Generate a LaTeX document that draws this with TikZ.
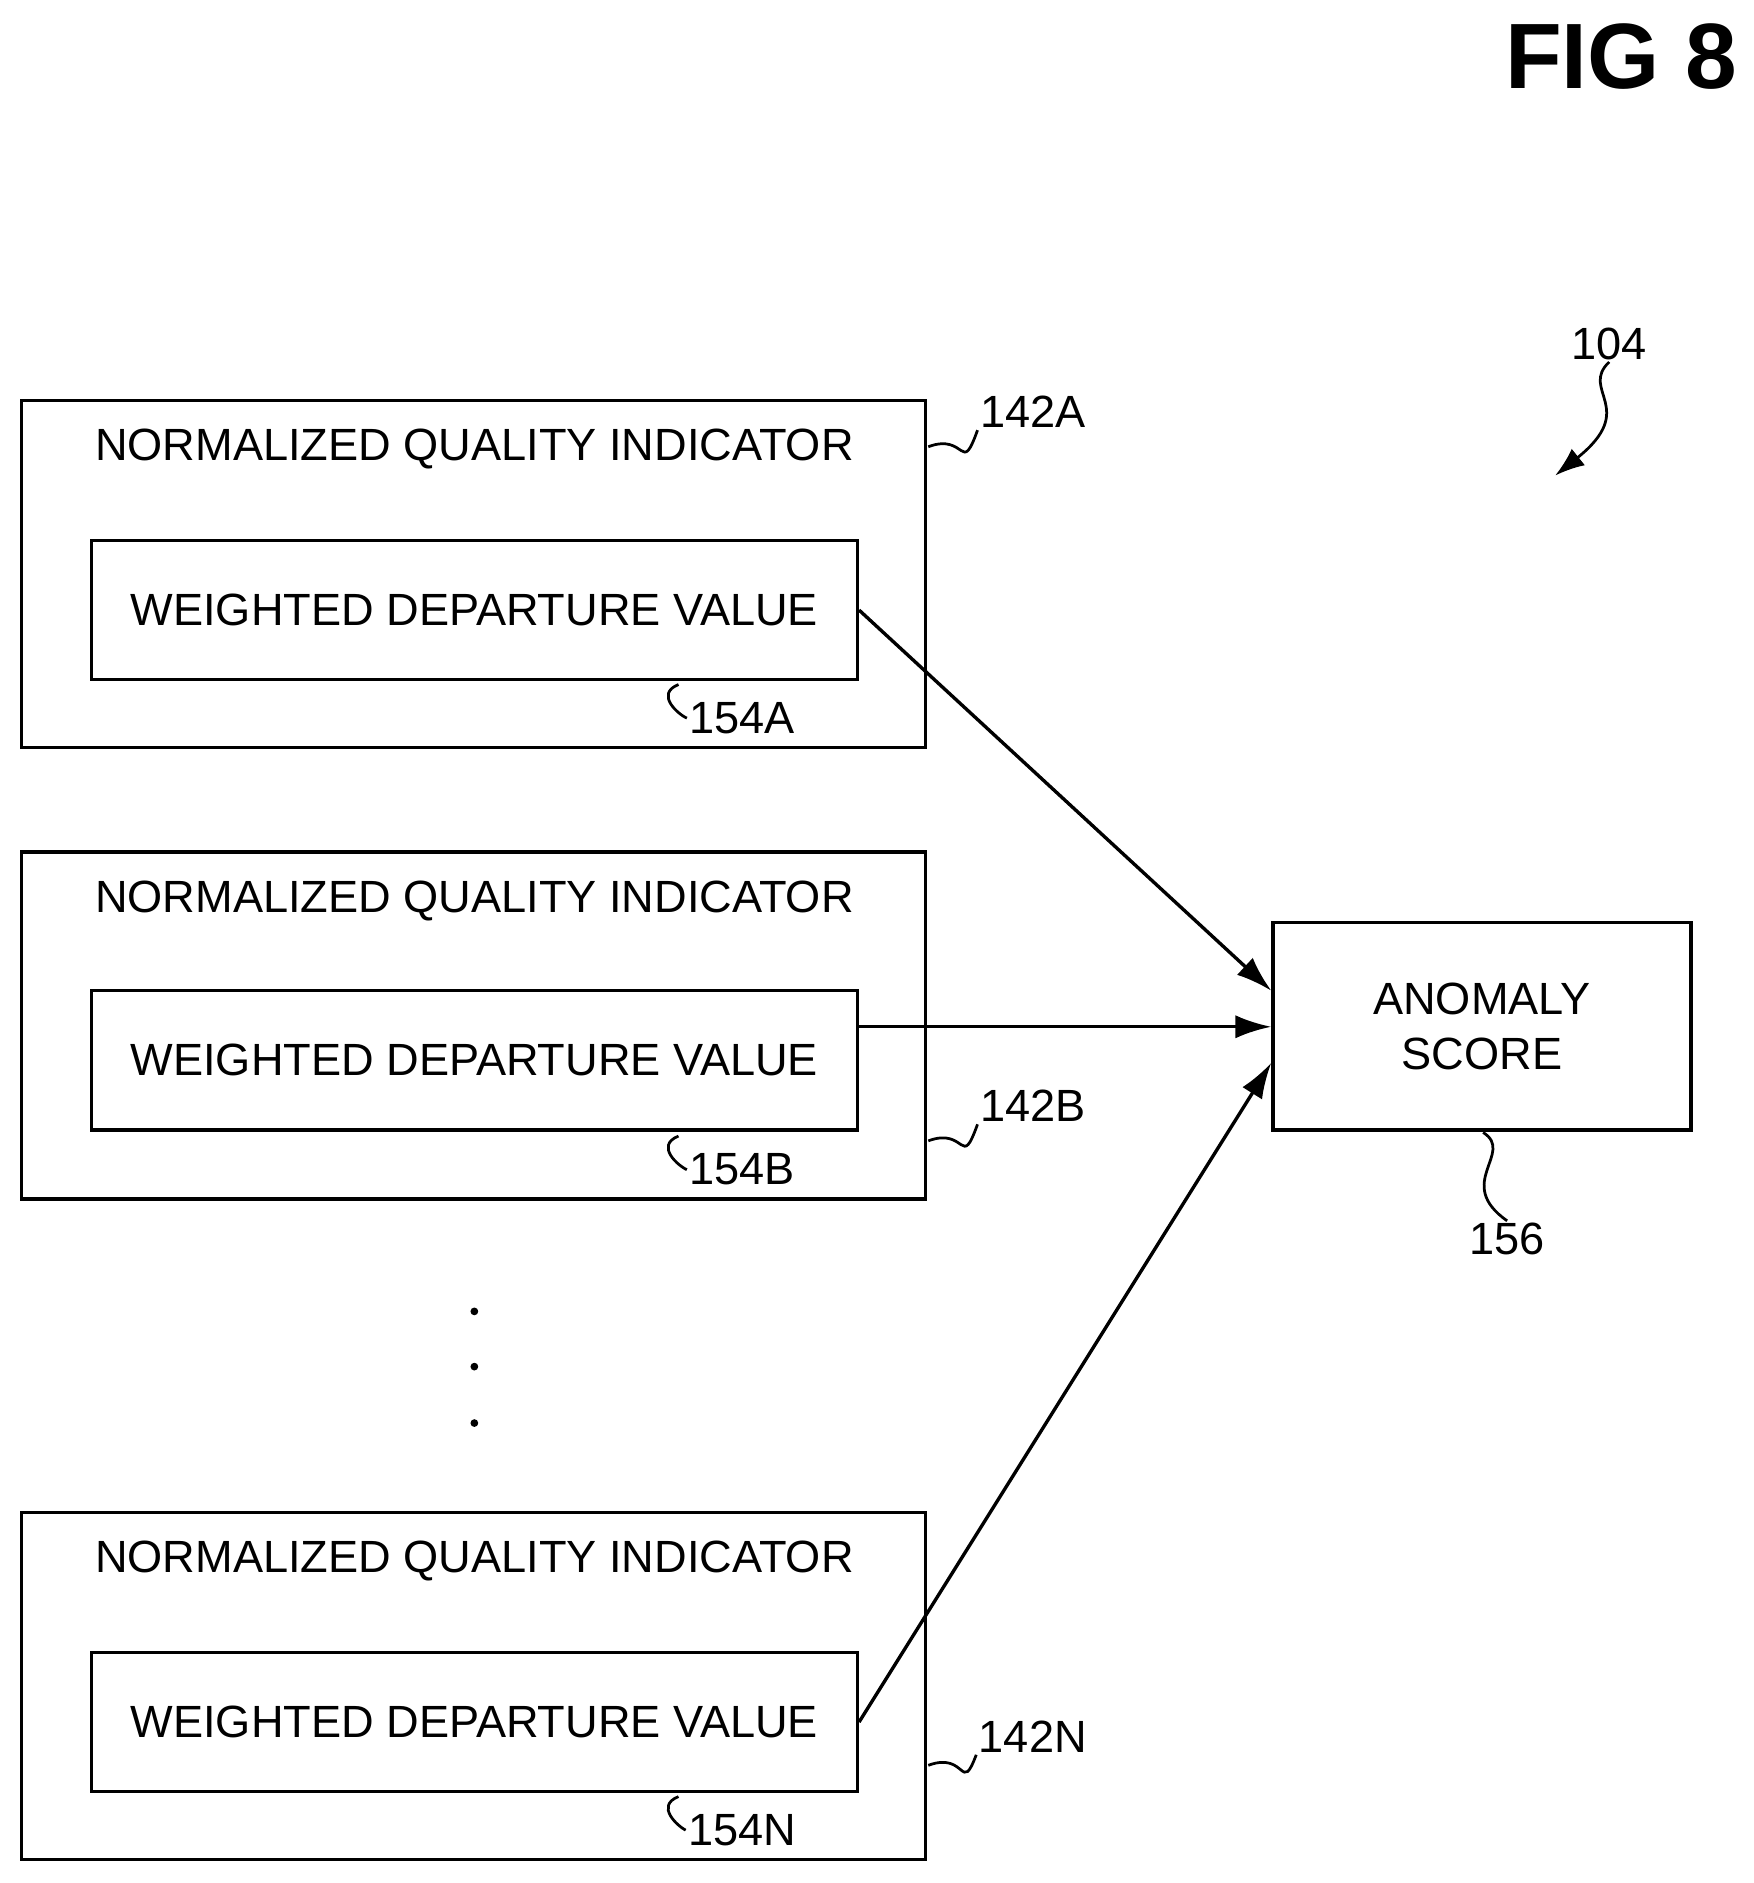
\documentclass[tikz,border=0pt]{standalone}
\usepackage{fontspec}
\setmainfont{Liberation Sans}
\usetikzlibrary{positioning}
\tikzset{
  outerbox/.style={draw,line width=1.6pt,minimum width=15.06cm,minimum height=5.78cm,inner sep=0pt},
  innerbox/.style={draw,line width=1.6pt,minimum width=12.76cm,minimum height=2.32cm,inner sep=0pt},
  boxtext/.style={font=\fontsize{21.4}{26}\selectfont},
  reflabel/.style={font=\fontsize{21.4}{26}\selectfont,inner sep=1pt},
  squiggle/.style={line width=1.3pt},
  link/.style={line width=1.6pt,-{Latex[length=17pt,width=11pt]}}
}
\usetikzlibrary{arrows.meta}
\begin{document}
\begin{tikzpicture}[x=0.02cm,y=-0.02cm]
  \useasboundingbox (0,0) rectangle (1460,1568);
  \node[font=\fontsize{44}{50}\selectfont\bfseries] (fig) at (1350,47) {FIG 8};
  % quality indicators
  \foreach \n/\y/\yi in {A/478/508, B/854/883, N/1404/1434}
  {
    \node[outerbox] (qi\n) at (394.5,\y) {};
    \node[boxtext] (qititle\n) at (395,\y-104) {NORMALIZED QUALITY INDICATOR};
    \node[innerbox] (wd\n) at (395,\yi) {};
    \node[boxtext] at (wd\n) {WEIGHTED DEPARTURE VALUE};
  }
  \node[draw,line width=1.6pt,minimum width=6.96cm,minimum height=3.46cm,boxtext,align=center] (score) at (1234,854.5) {ANOMALY\\[0pt]SCORE};
  % dots
  \foreach \y in {1092,1138,1185}
    \node[circle,fill,inner sep=1.3pt] at (395,\y) {};
  % arrows
  \draw[link] (wdA.east) -- (score.north west |- 0,825) coordinate (sa);
  \draw[link] (wdB.east |- 0,855) -- (score.west |- 0,855);
  \draw[link] (wdN.east) -- (score.west |- 0,885);
  % reference labels
  \node[reflabel] (l142A) at (860,343) {142A};
  \node[reflabel] (l142B) at (860,921) {142B};
  \node[reflabel] (l142N) at (860,1446) {142N};
  \node[reflabel] (l154A) at (618,598) {154A};
  \node[reflabel] (l154B) at (618,974) {154B};
  \node[reflabel] (l154N) at (618,1524) {154N};
  \node[reflabel] (l156) at (1255,1032) {156};
  \node[reflabel] (l104) at (1340,286) {104};
  \foreach \n/\y in {A/372, B/950, N/1470}
    \draw[squiggle] (773,\y) .. controls (805,\y-12) and (800,\y+25) .. (l142\n.south west);
  \foreach \n/\y in {A/570, B/946, N/1496}
    \draw[squiggle] (565,\y) .. controls (545,\y+8) and (565,\y+25) .. (l154\n.west);
  \draw[squiggle] (1235,943) .. controls (1262,960) and (1210,985) .. (l156.north);
  \draw[squiggle,-{Latex[length=14pt,width=10pt]}] (l104.south) .. controls (1315,325) and (1365,340) .. (1295,396);
\end{tikzpicture}
\end{document}
